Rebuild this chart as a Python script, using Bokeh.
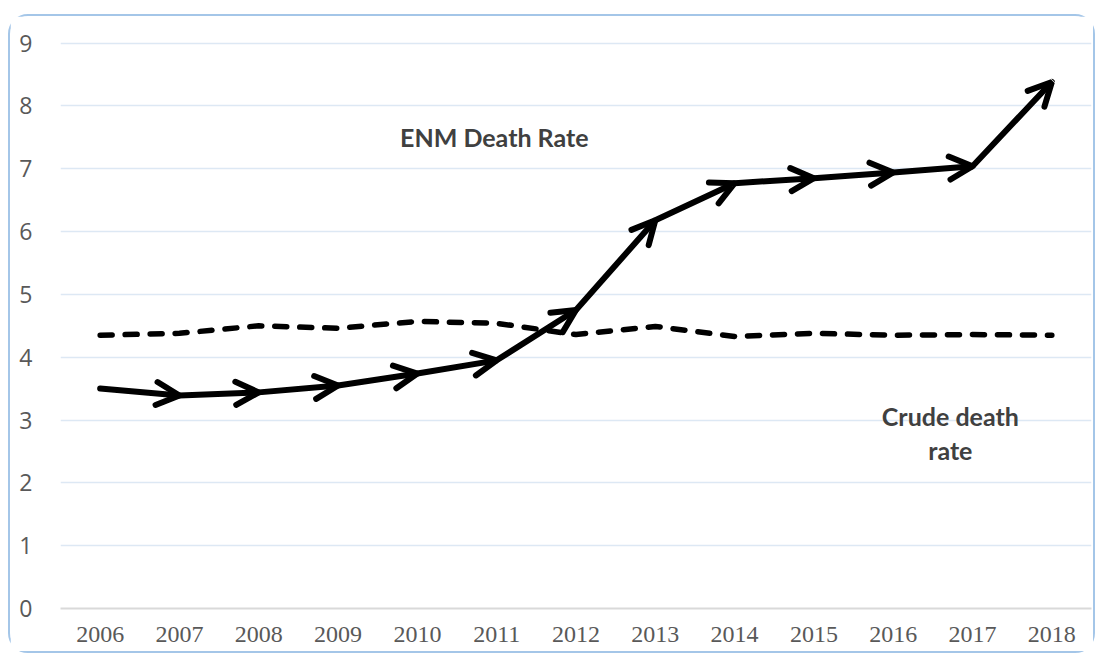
from bokeh.plotting import figure
from bokeh.models import Range1d, FixedTicker, Arrow, OpenHead, ColumnDataSource, Label
from bokeh.embed import file_html
from bokeh.resources import INLINE

years = [2006, 2007, 2008, 2009, 2010, 2011, 2012, 2013, 2014, 2015, 2016, 2017, 2018]
enm_rate = [3.50, 3.39, 3.44, 3.55, 3.74, 3.95, 4.75, 6.18, 6.77, 6.85, 6.94, 7.04, 8.38]
crude_rate = [4.35, 4.38, 4.50, 4.46, 4.57, 4.54, 4.36, 4.49, 4.33, 4.38, 4.35, 4.36, 4.35]
y_ticks = [0, 1, 2, 3, 4, 5, 6, 7, 8, 9]

p = figure(width=1087, height=639, output_backend="svg", toolbar_location=None,
           x_range=Range1d(2005.5, 2018.5), y_range=Range1d(0, 9.2),
           min_border_left=50, min_border_right=6, min_border_top=14, min_border_bottom=47)
p.margin = (14, 0, 0, 8)
p.styles = {"border": "2px solid #a4c6e8", "border-radius": "20px"}
p.outline_line_color = None
p.background_fill_color = "white"

p.xgrid.grid_line_color = None
p.ygrid.grid_line_color = "#dde8f4"
p.ygrid.grid_line_width = 1.5
p.ygrid.ticker = FixedTicker(ticks=y_ticks[1:])

p.yaxis.ticker = FixedTicker(ticks=y_ticks)
p.yaxis.axis_line_color = None
p.yaxis.major_tick_line_color = None
p.yaxis.minor_tick_line_color = None
p.yaxis.major_label_text_font = "Open Sans"
p.yaxis.major_label_text_font_size = "23px"
p.yaxis.major_label_text_color = "#595959"
p.yaxis.major_label_standoff = 22

p.xaxis.ticker = FixedTicker(ticks=years)
p.xaxis.axis_line_color = "#d9d9d9"
p.xaxis.axis_line_width = 2
p.xaxis.major_tick_line_color = None
p.xaxis.minor_tick_line_color = None
p.xaxis.major_label_text_font = "Liberation Serif"
p.xaxis.major_label_text_font_size = "24px"
p.xaxis.major_label_text_color = "#595959"
p.xaxis.major_label_standoff = 12

# crude death rate dashed line
p.line(years, crude_rate, line_color="black", line_width=5.5, line_dash="12 13", line_cap="round")

# ENM arrows
src = ColumnDataSource(dict(x0=years[:-1], y0=enm_rate[:-1], x1=years[1:], y1=enm_rate[1:]))
p.add_layout(Arrow(source=src, x_start="x0", y_start="y0", x_end="x1", y_end="y1",
                   line_color="black", line_width=6, line_cap="round",
                   end=OpenHead(size=23, line_width=6, line_color="black", line_cap="round")))

lbl = dict(text_font="Lato", text_font_style="bold", text_font_size="25px", text_color="#404040",
           text_align="center", text_baseline="middle")
p.add_layout(Label(x=2010.97, y=7.5, text="ENM Death Rate", **lbl))
p.add_layout(Label(x=2016.72, y=3.07, text="Crude death", **lbl))
p.add_layout(Label(x=2016.72, y=2.52, text="rate", **lbl))

open("out.html", "w").write(file_html(p, INLINE))
